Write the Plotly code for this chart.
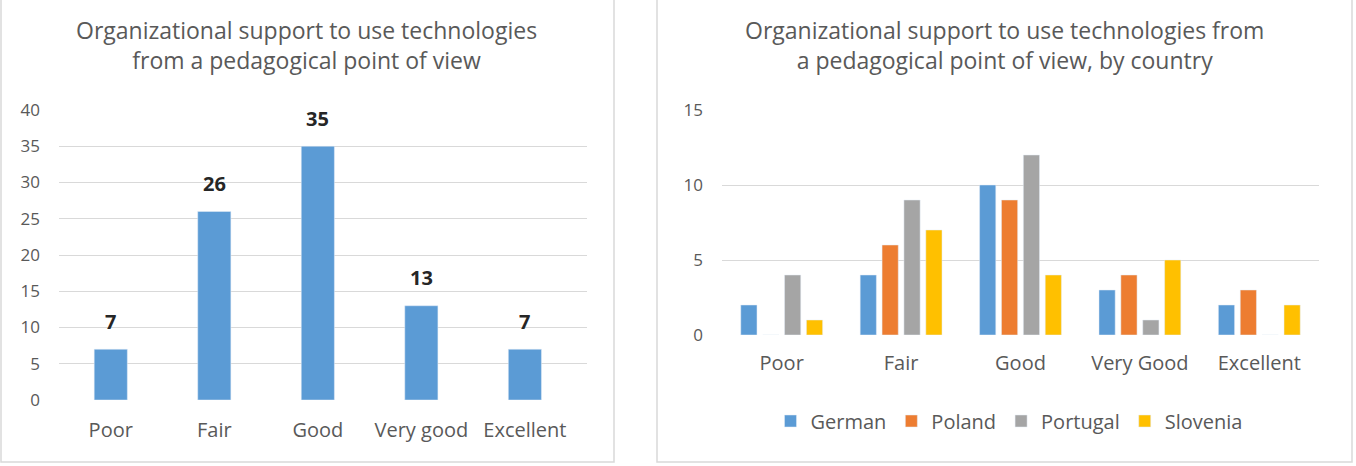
import plotly.graph_objects as go

W, H = 1356, 466

# ---- data ----
cats_left = ["Poor", "Fair", "Good", "Very good", "Excellent"]
vals_left = [7, 26, 35, 13, 7]

cats_right = ["Poor", "Fair", "Good", "Very Good", "Excellent"]
german = [2, 4, 10, 3, 2]
poland = [0, 6, 9, 4, 3]
portugal = [4, 9, 12, 1, 0]
slovenia = [1, 7, 4, 5, 2]
series_names = ["German", "Poland", "Portugal", "Slovenia"]
series_vals = [german, poland, portugal, slovenia]
series_colors = ["#5B9BD5", "#ED7D31", "#A5A5A5", "#FFC000"]

left_ticks = [0, 5, 10, 15, 20, 25, 30, 35, 40]
right_ticks = [0, 5, 10, 15]

title_left = ["Organizational support to use technologies", "from a pedagogical point of view"]
title_right = ["Organizational support to use technologies from", "a pedagogical point of view, by country"]

FONT = "Open Sans"
TXT = "#595959"
GRID = "#D9D9D9"


def px(x):
    return x / W


def py(y):
    return 1 - y / H


fig = go.Figure()

fig.add_trace(go.Bar(
    x=cats_left, y=vals_left, marker_color="#5B9BD5", width=0.32,
    showlegend=False, xaxis="x", yaxis="y",
))

for name, vals, col in zip(series_names, series_vals, series_colors):
    fig.add_trace(go.Bar(
        x=cats_right, y=vals, name=name, marker_color=col,
        xaxis="x2", yaxis="y2",
    ))

axis_common = dict(showline=False, zeroline=False)

fig.update_layout(
    width=W, height=H,
    margin=dict(l=0, r=0, t=0, b=0, autoexpand=False),
    paper_bgcolor="white", plot_bgcolor="white",
    font=dict(family=FONT, color=TXT, size=15),
    barmode="group", bargap=0.267, bargroupgap=0.26,
    xaxis=dict(domain=[px(59), px(587)], anchor="y", showgrid=False, range=[-0.5, 4.6],
               ticklabelstandoff=16, tickfont=dict(size=20, color=TXT), automargin=False,
               **axis_common),
    yaxis=dict(domain=[py(400), py(110)], anchor="x", range=[0, 40],
               tickvals=left_ticks, showgrid=True, gridcolor=GRID, gridwidth=1.3,
               ticklabelstandoff=18, tickfont=dict(size=17, color=TXT), automargin=False,
               **axis_common),
    xaxis2=dict(domain=[px(722), px(1319)], anchor="y2", showgrid=False,
                ticklabelstandoff=14, tickfont=dict(size=20, color=TXT), automargin=False,
                **axis_common),
    yaxis2=dict(domain=[py(335), py(110)], anchor="x2", range=[0, 15],
                tickvals=right_ticks, showgrid=True, gridcolor=GRID, gridwidth=1.3,
                ticklabelstandoff=18, tickfont=dict(size=17, color=TXT), automargin=False,
                **axis_common),
    legend=dict(orientation="h", x=px(1009), xanchor="center", y=py(421), yanchor="middle",
                font=dict(size=20, color=TXT), itemwidth=30, tracegroupgap=0,
                bgcolor="rgba(0,0,0,0)"),
)

annotations = [
    dict(text="<br>".join(title_left), x=px(306), y=py(45), xref="paper", yref="paper",
         xanchor="center", yanchor="middle", showarrow=False,
         font=dict(family=FONT, size=23, color=TXT)),
    dict(text="<br>".join(title_right), x=px(1004), y=py(45), xref="paper", yref="paper",
         xanchor="center", yanchor="middle", showarrow=False,
         font=dict(family=FONT, size=23, color=TXT)),
]
# data labels above the left bars, positioned on the data scale
for c, v in zip(cats_left, vals_left):
    annotations.append(dict(
        x=c, y=v, xref="x", yref="y", text=str(v), showarrow=False,
        yanchor="middle", yshift=28,
        font=dict(family=FONT, size=20, color="#262626", weight="bold"),
    ))
fig.update_layout(annotations=annotations)

shapes = [
    dict(type="rect", xref="paper", yref="paper", x0=px(1), x1=px(614), y0=py(462), y1=py(-5),
         line=dict(color=GRID, width=1.5), fillcolor="rgba(0,0,0,0)", layer="below"),
    dict(type="rect", xref="paper", yref="paper", x0=px(657), x1=px(1352), y0=py(462), y1=py(-5),
         line=dict(color=GRID, width=1.5), fillcolor="rgba(0,0,0,0)", layer="below"),
]
fig.update_layout(shapes=shapes)

fig.write_html("out.html")
